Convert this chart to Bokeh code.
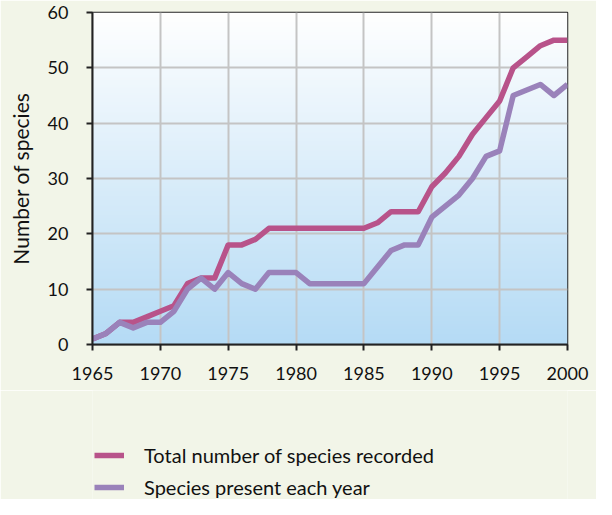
import numpy as np
from bokeh.plotting import figure
from bokeh.layouts import column
from bokeh.models import Range1d, FixedTicker, Legend, LegendItem
from bokeh.embed import file_html
from bokeh.resources import INLINE

years = list(range(1965, 2001))
total_recorded = [1, 2, 4, 4, 5, 6, 7, 11, 12, 12, 18, 18, 19, 21, 21, 21, 21, 21, 21, 21,
                  21, 22, 24, 24, 24, 28.5, 31, 34, 38, 41, 44, 50, 52, 54, 55, 55]
present_each_year = [1, 2, 4, 3, 4, 4, 6, 10, 12, 10, 13, 11, 10, 13, 13, 13, 11, 11, 11, 11,
                     11, 14, 17, 18, 18, 23, 25, 27, 30, 34, 35, 45, 46, 47, 45, 47]
x_ticks = [1965, 1970, 1975, 1980, 1985, 1990, 1995, 2000]
y_ticks = [0, 10, 20, 30, 40, 50, 60]
series_labels = ["Total number of species recorded", "Species present each year"]
y_label = "Number of species"

PAGE_BG = "#f2f5e8"
RED = "#b8538a"
PURPLE = "#9a82ba"
FONT = "Lato"
W = 596
H_MAIN = 390
H_LEG = 109

p = figure(width=W, height=H_MAIN, output_backend="svg", toolbar_location=None,
           x_range=Range1d(x_ticks[0], x_ticks[-1]), y_range=Range1d(y_ticks[0], y_ticks[-1]),
           min_border_left=92, min_border_right=29, min_border_top=12, min_border_bottom=46)
p.border_fill_color = PAGE_BG
p.background_fill_color = "#ffffff"
p.outline_line_color = "#222222"
p.outline_line_width = 1.5

# vertical gradient background (white at top to light blue at bottom)
n = 200
top = np.array([255, 255, 255], dtype=float)
bot = np.array([181, 219, 245], dtype=float)
t = np.linspace(0, 1, n)[:, None]  # row 0 is bottom
cols = bot * (1 - t) + top * t
img = np.zeros((n, 1), dtype=np.uint32)
view = img.view(dtype=np.uint8).reshape((n, 1, 4))
view[:, 0, 0] = cols[:, 0].astype(np.uint8)
view[:, 0, 1] = cols[:, 1].astype(np.uint8)
view[:, 0, 2] = cols[:, 2].astype(np.uint8)
view[:, 0, 3] = 255
bg = p.image_rgba(image=[img], x=x_ticks[0], y=y_ticks[0],
                  dw=x_ticks[-1] - x_ticks[0], dh=y_ticks[-1] - y_ticks[0])
bg.level = "image"

p.line(years, total_recorded, line_color=RED, line_width=5.5, line_join="round")
p.line(years, present_each_year, line_color=PURPLE, line_width=5.5, line_join="round")

for ax in (p.xaxis, p.yaxis):
    ax.axis_line_color = "#222222"
    ax.axis_line_width = 2
    ax.major_tick_line_color = "#222222"
    ax.major_tick_line_width = 2
    ax.major_tick_out = 6
    ax.major_tick_in = 0
    ax.minor_tick_line_color = None
    ax.major_label_text_font = FONT
    ax.major_label_text_font_size = "18px"
    ax.major_label_text_color = "#111111"

p.xaxis.ticker = FixedTicker(ticks=x_ticks)
p.yaxis.ticker = FixedTicker(ticks=y_ticks)
p.xaxis.major_label_standoff = 16
p.yaxis.major_label_standoff = 18
p.yaxis.axis_label = y_label
p.yaxis.axis_label_text_font = FONT
p.yaxis.axis_label_text_font_size = "21px"
p.yaxis.axis_label_text_font_style = "normal"
p.yaxis.axis_label_text_color = "#111111"
p.yaxis.axis_label_standoff = 12

p.xgrid.ticker = FixedTicker(ticks=x_ticks)
p.ygrid.ticker = FixedTicker(ticks=y_ticks)
p.grid.grid_line_color = "#c4c4c4"
p.grid.grid_line_width = 2

# legend panel below the chart
lf = figure(width=W, height=H_LEG, output_backend="svg", toolbar_location=None,
            x_range=Range1d(0, 1), y_range=Range1d(0, 1),
            x_axis_type=None, y_axis_type=None,
            min_border_left=0, min_border_right=0, min_border_top=0, min_border_bottom=0)
lf.grid.visible = False
lf.outline_line_color = None
lf.background_fill_color = PAGE_BG
lf.border_fill_color = PAGE_BG
k1 = lf.line(years, total_recorded, line_color=RED, line_width=5.5)
k2 = lf.line(years, present_each_year, line_color=PURPLE, line_width=5.5)

legend = Legend(items=[LegendItem(label=series_labels[0], renderers=[k1]),
                       LegendItem(label=series_labels[1], renderers=[k2])],
                location=(2, 0), orientation="vertical")
legend.padding = 0
legend.margin = 0
legend.spacing = 8
legend.glyph_width = 30
legend.glyph_height = 22
legend.label_height = 22
legend.label_standoff = 20
legend.label_text_font = FONT
legend.label_text_font_size = "20px"
legend.label_text_color = "#111111"
legend.background_fill_alpha = 0
legend.border_line_color = None
lf.add_layout(legend, "center")

layout = column(p, lf)
open("out.html", "w").write(file_html(layout, INLINE))
